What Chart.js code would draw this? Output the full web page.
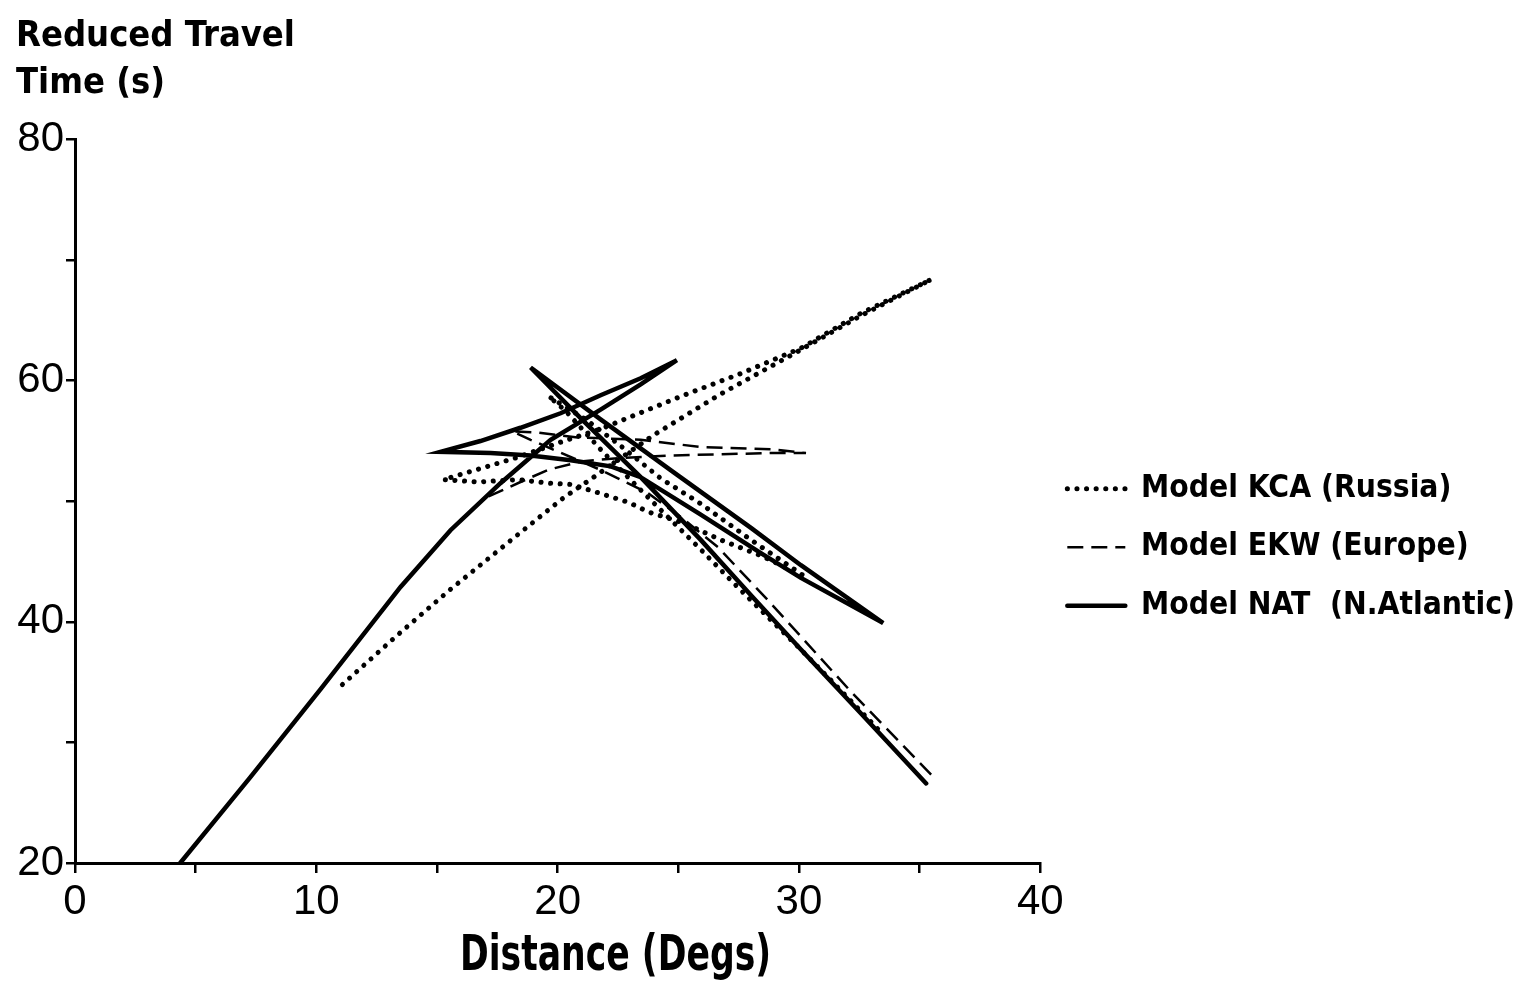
<!DOCTYPE html>
<html>
<head>
<meta charset="utf-8">
<title>Reduced Travel Time</title>
<script src="https://cdn.jsdelivr.net/npm/chart.js@4.4.1/dist/chart.umd.min.js"></script>
<style>
  html, body { margin: 0; padding: 0; background: #fff; }
  .wrap { width: 1525px; height: 983px; position: relative; }
</style>
</head>
<body>
<div class="wrap"><canvas id="travelChart"></canvas></div>
<script>
// values: distance in degrees, reduced travel time in s
// each model is one continuous branch line (forward, back at cusps, forward again)
const kcaDist = [11.08, 13.36, 15.56, 18.76, 20.25, 21.49, 23.98, 26.76, 29.75, 32.57, 35.48,
                 32.57, 30.08, 27.59, 25.10, 21.91, 20.12, 18.26, 15.27,
                 16.68, 18.38, 19.63, 20.54, 21.70, 22.95, 23.78, 25.23, 26.76, 28.42, 30.29,
                 28.01, 25.93, 24.27, 22.61, 21.16, 19.63,
                 20.33, 21.87, 23.86, 25.93, 27.30, 28.71, 30.08, 31.45, 33.32];
const kcaTime = [34.8, 38.9, 42.7, 47.9, 50.3, 52.0, 55.5, 58.9, 62.2, 65.4, 68.4,
                 65.6, 62.7, 60.6, 58.7, 56.1, 54.9, 53.6, 51.8,
                 51.6, 51.8, 51.5, 51.4, 50.7, 49.9, 49.1, 48.2, 46.8, 45.5, 43.7,
                 46.8, 49.8, 51.9, 54.6, 56.8, 58.7,
                 57.5, 54.1, 50.1, 46.0, 43.2, 40.4, 37.7, 34.9, 31.0];

const ekwDist = [17.14, 18.46, 19.59, 20.95, 22.61, 24.69, 26.76, 28.84, 30.29,
                 28.96, 25.93, 23.44, 20.83, 19.17, 18.13,
                 18.88, 21.78, 23.73, 25.10, 26.64, 28.71, 32.16, 35.68];
const ekwTime = [50.4, 51.6, 52.6, 53.3, 53.6, 53.8, 53.9, 54.0, 54.0,
                 54.3, 54.5, 55.1, 55.3, 55.7, 55.8,
                 55.1, 52.6, 50.7, 48.7, 46.2, 41.8, 34.2, 26.9];

const natDist = [4.36, 7.26, 10.17, 13.49, 15.56, 17.63, 19.71, 21.78, 23.44, 24.94,
                 23.44, 21.78, 20.12, 18.46, 16.80, 15.15,
                 17.22, 18.88, 20.54, 22.20, 23.44, 25.93, 28.42, 30.08, 33.49,
                 30.08, 28.01, 24.81, 21.78, 18.88,
                 20.95, 23.44, 25.93, 28.01, 30.08, 32.57, 35.27];
const natTime = [20.0, 27.1, 34.4, 42.9, 47.6, 51.5, 55.1, 57.6, 59.7, 61.7,
                 60.2, 58.8, 57.3, 56.1, 55.0, 54.1,
                 54.0, 53.8, 53.4, 52.9, 52.0, 48.9, 45.7, 43.65, 39.9,
                 44.7, 47.8, 52.4, 56.8, 61.1,
                 56.9, 52.0, 46.8, 42.2, 37.7, 32.4, 26.6];

const xTickLabels = [0, 10, 20, 30, 40];
const yTickLabels = [20, 40, 60, 80];

const narrow = "'DejaVu Sans Condensed', 'Liberation Sans Narrow', sans-serif";
const plain = "'Liberation Sans', Arial, sans-serif";

function toPoints(xs, ys) {
    return xs.map((x, i) => ({ x: x, y: ys[i] }));
}

// x axis title sits right of the plot centre in the original, drawn squeezed like the print
const axisTitle = {
    id: 'axisTitle',
    afterDraw(chart) {
        const c = chart.ctx;
        const area = chart.chartArea;
        c.save();
        c.font = 'bold 50px ' + narrow;
        c.fillStyle = '#000';
        c.textAlign = 'center';
        c.textBaseline = 'middle';
        c.translate(area.left + (area.right - area.left) * 0.56, chart.scales.x.bottom - 26);
        c.scale(0.77, 1);
        c.fillText('Distance (Degs)', 0, 0);
        c.restore();
    }
};

const line = { showLine: true, pointRadius: 0, pointHoverRadius: 0, tension: 0, borderColor: '#000', backgroundColor: '#000', fill: false };

new Chart(document.getElementById('travelChart'), {
    type: 'scatter',
    data: {
        datasets: [
            Object.assign({ label: 'Model KCA (Russia)', data: toPoints(kcaDist, kcaTime),
                borderWidth: 5, borderDash: [0.1, 9.5], borderCapStyle: 'round' }, line),
            Object.assign({ label: 'Model EKW (Europe)', data: toPoints(ekwDist, ekwTime),
                borderWidth: 2.5, borderDash: [16, 8], borderCapStyle: 'butt' }, line),
            Object.assign({ label: 'Model NAT  (N.Atlantic)', data: toPoints(natDist, natTime),
                borderWidth: 4.5, borderDash: [], borderCapStyle: 'round' }, line)
        ]
    },
    options: {
        responsive: true,
        maintainAspectRatio: false,
        animation: false,
        layout: { padding: { left: 16, right: 0, top: 0, bottom: 0 } },
        plugins: {
            title: {
                display: true,
                text: ['Reduced Travel', 'Time (s)'],
                align: 'start',
                color: '#000',
                font: { family: narrow, size: 36, weight: 'bold', lineHeight: 1.3 },
                padding: { top: 13, bottom: 33 }
            },
            legend: {
                position: 'right',
                maxWidth: 700,
                title: { display: true, text: ' ', font: { size: 12 }, padding: { top: 97, bottom: 0 } },
                labels: {
                    color: '#000',
                    font: { family: narrow, size: 31.5, weight: 'bold' },
                    usePointStyle: true,
                    pointStyleWidth: 58,
                    boxHeight: 10,
                    padding: 27,
                    generateLabels(chart) {
                        const items = Chart.defaults.plugins.legend.labels.generateLabels(chart);
                        return items.map(item => {
                            const ds = chart.data.datasets[item.datasetIndex];
                            return Object.assign(item, {
                                pointStyle: 'line',
                                lineWidth: ds.borderWidth,
                                lineDash: ds.borderDash,
                                lineCap: ds.borderCapStyle,
                                strokeStyle: ds.borderColor
                            });
                        });
                    }
                }
            },
            tooltip: { enabled: false }
        },
        scales: {
            x: {
                type: 'linear', min: 0, max: 40,
                border: { display: true, color: '#000', width: 3 },
                grid: { drawOnChartArea: false, drawTicks: true, tickLength: 10, color: '#000', lineWidth: 2.5 },
                ticks: {
                    stepSize: 5, autoSkip: false, maxRotation: 0, padding: 4, color: '#000',
                    font: { family: plain, size: 42 },
                    callback: v => xTickLabels.includes(v) ? String(v) : ''
                },
                afterFit(scale) { scale.height = 120; }
            },
            y: {
                type: 'linear', min: 20, max: 80,
                border: { display: true, color: '#000', width: 3 },
                grid: { drawOnChartArea: false, drawTicks: true, tickLength: 9, color: '#000', lineWidth: 2.5 },
                ticks: {
                    stepSize: 10, autoSkip: false, padding: 2, color: '#000',
                    font: { family: plain, size: 42 },
                    callback: v => yTickLabels.includes(v) ? String(v) : ''
                },
                afterFit(scale) { scale.width = 59; }
            }
        }
    },
    plugins: [axisTitle]
});
</script>
</body>
</html>
